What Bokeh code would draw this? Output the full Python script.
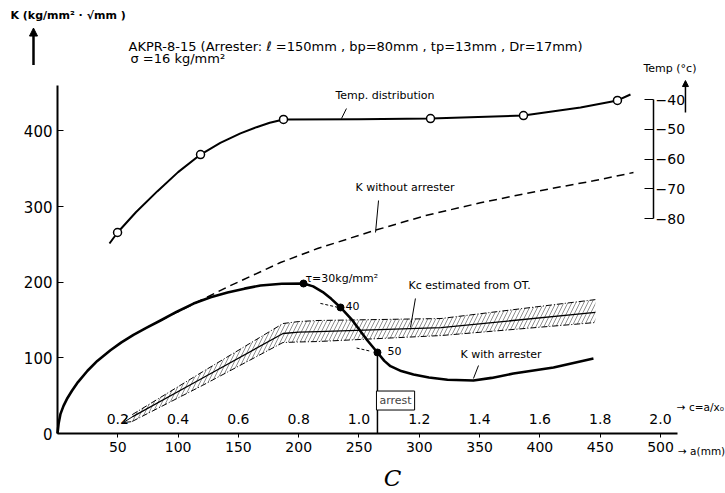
from bokeh.plotting import figure
from bokeh.models import (Range1d, LinearAxis, FixedTicker, Arrow, NormalHead, OpenHead, Label,
                          PrintfTickFormatter)
from bokeh.core.properties import value
from bokeh.embed import file_html
from bokeh.resources import INLINE

# ---------------- data (a in mm, K in kg/mm^2*sqrt(mm), T in deg C) ----------------
k_ticks = [0, 100, 200, 300, 400]
a_ticks = [50, 100, 150, 200, 250, 300, 350, 400, 450, 500]
c_ticks = [0.2, 0.4, 0.6, 0.8, 1.0, 1.2, 1.4, 1.6, 1.8, 2.0]
t_ticks = [-80, -70, -60, -50, -40]

# K with arrester (solid thick)
kw_a = [0, 1.0, 2.5, 5.0, 8.3, 12.0, 17.0, 24.9, 33.0, 43.9, 53.0, 63.0, 74.0, 85.4, 99.0,
        112.8, 127.0, 141.0, 155.0, 168.3, 186.0, 204.0,
        212.0, 220.0, 227.0, 234.7, 244.6, 257.0, 265.3, 271.0, 276.1, 285.0, 295.2, 308.0,
        323.4, 344.9, 360.0, 378.1, 411.3, 444.4]
kw_k = [0, 14.0, 26.0, 36.5, 47.0, 56.5, 68.0, 83.0, 96.0, 110.0, 120.5, 130.5, 140.0, 149.4, 161.0,
        171.8, 180.0, 186.4, 191.5, 195.6, 198.0, 198.3,
        194.5, 187.0, 178.0, 166.6, 149.4, 122.9, 107.1, 96.0, 89.0, 82.5, 78.0, 74.0,
        71.0, 70.1, 73.5, 79.3, 87.2, 99.1]

# K without arrester (dashed)
kwo_a = [85.4, 93.7, 140.0, 184.9, 215.6, 262.0, 305.0, 350.7, 400.0, 444.4, 477.6]
kwo_k = [149.4, 156.0, 193.0, 226.0, 244.5, 268.0, 288.0, 305.0, 321.0, 334.0, 345.0]

# tau markers (30, 40, 50 kg/mm^2)
tau_a = [204.0, 234.7, 265.3]
tau_k = [198.3, 166.6, 107.1]
tau_lbl = ["\u03c4=30kg/mm\u00b2", "40", "50"]

# Kc estimated from OT (band)
kc_a = [62.0, 120.0, 187.0, 200.0, 216.0, 318.0, 446.0]
kc_up = [25.0, 81.3, 145.4, 148.0, 149.4, 152.0, 177.0]
kc_mid = [22.0, 73.1, 132.2, 134.0, 134.8, 140.1, 160.0]
kc_lo = [16.0, 63.4, 120.3, 121.0, 121.6, 129.5, 146.7]
kc_tip = [54.7, 14.5]

# Temperature distribution
t_a = [43.1, 49.8, 65.0, 82.9, 100.0, 118.6, 135.0, 151.7, 165.0, 176.0, 187.4, 250.0,
       309.3, 386.4, 433.7, 464.3, 475.1]
t_v = [-88.4, -84.7, -77.9, -70.8, -64.4, -58.5, -54.6, -51.4, -49.3, -47.8, -46.7, -46.6,
       -46.4, -45.4, -42.7, -40.3, -38.3]
t_pt_a = [49.8, 118.6, 187.4, 309.3, 386.4, 464.3]
t_pt_v = [-84.7, -58.5, -46.7, -46.4, -45.4, -40.3]

arrest_a = 265.3
temp_axis_a = 494.2

# ---------------- figure ----------------
FONT = "DejaVu Sans"
W, H = 725, 493
X0, X1 = -47.26, 553.9
Y0, Y1 = -79.3, 572.4
# temperature scale tied to K scale: T = -40 + (K - 441.5)/3.9325
def k2t(k):
    return -40 + (k - 441.5) / 3.9325

p = figure(width=W, height=H, output_backend="svg", toolbar_location=None,
           x_range=Range1d(X0, X1), y_range=Range1d(Y0, Y1),
           x_axis_location=None, y_axis_location=None, min_border=0)
p.outline_line_color = None
p.background_fill_color = "white"
p.border_fill_color = "white"
p.grid.visible = False
p.extra_y_ranges = {"temp": Range1d(k2t(Y0), k2t(Y1))}
p.extra_x_ranges = {"c": Range1d(X0 / 250.0, X1 / 250.0)}

def style_axis(ax, size="14px"):
    ax.minor_tick_line_color = None
    ax.major_label_text_font = FONT
    ax.major_label_text_font_size = size
    ax.major_label_text_color = "black"
    ax.axis_line_color = "black"
    ax.major_tick_line_color = "black"

yax = LinearAxis(fixed_location=0, bounds=(0, 460), ticker=FixedTicker(ticks=k_ticks))
style_axis(yax, "15px")
yax.axis_line_width = 2
yax.major_tick_in = 6
yax.major_tick_out = 0
yax.major_label_standoff = 5
p.add_layout(yax, "left")

xax = LinearAxis(fixed_location=0, bounds=(0, 514), ticker=FixedTicker(ticks=a_ticks))
style_axis(xax, "14px")
xax.axis_line_width = 2
xax.major_tick_in = 0
xax.major_tick_out = 4
xax.major_label_standoff = 4
p.add_layout(xax, "below")

cax = LinearAxis(x_range_name="c", fixed_location=0, ticker=FixedTicker(ticks=c_ticks),
                 formatter=PrintfTickFormatter(format="%.1f"))
style_axis(cax, "14px")
cax.axis_line_color = None
cax.major_tick_line_color = None
cax.major_label_standoff = 4
p.add_layout(cax, "above")

tax = LinearAxis(y_range_name="temp", fixed_location=temp_axis_a, bounds=(-80, -40),
                 ticker=FixedTicker(ticks=t_ticks))
style_axis(tax, "14px")
tax.axis_line_width = 1.5
tax.major_tick_in = 9
tax.major_tick_out = 0
tax.major_label_standoff = 2
p.add_layout(tax, "right")

# ---------------- data marks ----------------
# Kc band hatch
p.varea(x=kc_a, y1=kc_lo, y2=kc_up, fill_alpha=0, hatch_pattern="/",
        hatch_color="black", hatch_alpha=0.55, hatch_scale=8, hatch_weight=0.8)
p.line(kc_a, kc_up, line_color="black", line_width=1, line_dash="6 2 1 2")
p.line(kc_a, kc_lo, line_color="black", line_width=1, line_dash="6 2 1 2")
p.line(kc_a, kc_mid, line_color="black", line_width=1.3)
p.add_layout(Arrow(end=OpenHead(size=7, line_width=1), x_start=kc_a[0], y_start=kc_mid[0],
                   x_end=kc_tip[0], y_end=kc_tip[1], line_width=1))

# K without arrester
p.line(kwo_a, kwo_k, line_color="black", line_width=1.5, line_dash="8 5")

# K with arrester
p.line(kw_a, kw_k, line_color="black", line_width=2.6, line_join="round")
p.scatter(tau_a, tau_k, size=7, color="black")
p.segment(x0=[arrest_a], y0=[tau_k[2]], x1=[arrest_a], y1=[0], line_color="black", line_width=1.5)

# Temperature distribution
p.line(t_a, t_v, y_range_name="temp", line_color="black", line_width=2, line_join="round")
p.scatter(t_pt_a, t_pt_v, y_range_name="temp", size=8, fill_color="white",
          line_color="black", line_width=1.5)

# ---------------- texts / leaders ----------------
p.text(x=[-39.0], y=[552.5], text=["K (kg/mm\u00b2 \u00b7 \u221amm )"], text_font=value(FONT),
       text_font_size="11px", text_baseline="middle", text_align="left", text_font_style="bold")
p.add_layout(Arrow(end=NormalHead(size=8, fill_color="black", line_color="black"),
                   x_start=-19.9, y_start=487.0, x_end=-19.9, y_end=536.0, line_width=2.5))

p.text(x=[58.9, 60.5], y=[511.6, 496.0],
       text=["AKPR-8-15 (Arrester: \u2113 =150mm , bp=80mm , tp=13mm , Dr=17mm)",
             "\u03c3 =16 kg/mm\u00b2"],
       text_font=value(FONT), text_font_size="13px", text_baseline="middle", text_align="left")

p.text(x=[230.5, 485.9, 247.1, 291.0, 334.2],
       y=[446.8, 482.5, 325.2, 195.6, 104.4],
       text=["Temp. distribution", "Temp (\u00b0c)", "K without arrester",
             "Kc estimated from OT.", "K with arrester"],
       text_font=value(FONT), text_font_size="11px", text_baseline="middle", text_align="left")

p.text(x=[513.5], y=[35.7], text=["\u2192 c=a/x\u2080"], text_font=value(FONT),
       text_font_size="10.5px", text_baseline="middle", text_align="left")

p.text(x=[205.6, 238.8, 273.6], y=[204.9, 167.9, 109.7], text=tau_lbl,
       text_font=value(FONT), text_font_size="11px", text_baseline="middle", text_align="left")

p.text(x=[514.5], y=[-22.5], text=["\u2192 a(mm)"], text_font=value(FONT),
       text_font_size="10.5px", text_baseline="middle", text_align="left")

p.text(x=[277.8], y=[-58.5], text=["C"], text_font=value("DejaVu Serif"),
       text_font_size="23px", text_font_style="italic", text_baseline="middle", text_align="center")

p.segment(x0=[239.6, 266.2, 296.8, 349.1], y0=[429.6, 308.0, 178.5, 89.9],
          x1=[235.5, 263.7, 292.7, 344.9], y1=[416.4, 265.7, 140.1, 72.7],
          line_color="black", line_width=1)
p.segment(x0=[218.0, 248.0], y0=[172.0, 113.0], x1=[232.0, 259.0], y1=[167.0, 109.0],
          line_color="black", line_width=1, line_dash="3 2")

p.add_layout(Label(x=280.3, y=43.6, text="arrest", text_font=FONT, text_font_size="11px",
                   text_align="center", text_baseline="middle",
                   border_line_color="black", border_line_width=1,
                   background_fill_color="white", padding=3))

p.add_layout(Arrow(end=NormalHead(size=6, fill_color="black", line_color="black"),
                   x_start=520.7, y_start=424.3, x_end=520.7, y_end=466.6, line_width=1.5))

open("out.html", "w").write(file_html(p, INLINE))
